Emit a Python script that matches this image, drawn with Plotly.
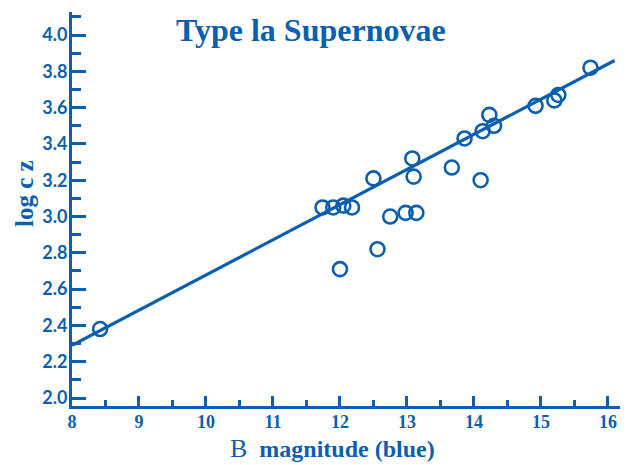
import plotly.graph_objects as go

BLUE = "#0B5FAE"
SERIF = "Liberation Serif"

# valores
b_mag = [8.42, 11.74, 11.9, 12.05, 12.18, 12.0, 12.5, 12.56, 12.75, 12.98, 13.08,
         13.1, 13.14, 13.67, 13.86, 14.1, 14.13, 14.23, 14.3, 14.92, 15.2, 15.26, 15.74]
log_cz = [2.38, 3.05, 3.05, 3.06, 3.05, 2.71, 3.21, 2.82, 3.0, 3.02, 3.32,
          3.22, 3.02, 3.27, 3.43, 3.2, 3.47, 3.56, 3.5, 3.61, 3.64, 3.67, 3.82]

fit_mag = [8.0, 16.1]
fit_logcz = [2.29, 3.86]

x_ticks = [8, 9, 10, 11, 12, 13, 14, 15, 16]
y_ticks = [2.0, 2.2, 2.4, 2.6, 2.8, 3.0, 3.2, 3.4, 3.6, 3.8, 4.0]

fig = go.Figure()
fig.add_trace(go.Scatter(
    x=fit_mag, y=fit_logcz, mode="lines",
    line=dict(color=BLUE, width=3.2), hoverinfo="skip"
))
fig.add_trace(go.Scatter(
    x=b_mag, y=log_cz, mode="markers",
    marker=dict(symbol="circle-open", size=14, color=BLUE, line=dict(color=BLUE, width=2.6))
))

# a página tem margem de 8px no body, por isso a figura é 8px menor
fig.update_layout(
    width=620, height=457,
    margin=dict(l=64, r=0, t=4, b=59),
    paper_bgcolor="white", plot_bgcolor="white",
    showlegend=False,
    font=dict(family=SERIF, color=BLUE),
    xaxis=dict(
        range=[8, 16.3], tickvals=x_ticks, ticktext=[str(v) for v in x_ticks],
        automargin=False,
        showgrid=False, zeroline=False, showline=True, linecolor=BLUE, linewidth=3,
        ticks="inside", ticklen=10, tickwidth=2.5, tickcolor=BLUE,
        ticklabelstandoff=-3,
        tickfont=dict(family=SERIF, size=18, color=BLUE, weight="bold"),
        minor=dict(dtick=0.5, tick0=8, ticks="inside", ticklen=6, tickwidth=2.5, tickcolor=BLUE),
    ),
    yaxis=dict(
        range=[1.956, 4.127], tickvals=y_ticks, ticktext=["%.1f" % v for v in y_ticks],
        automargin=False,
        showgrid=False, zeroline=False, showline=True, linecolor=BLUE, linewidth=3,
        ticks="inside", ticklen=14, tickwidth=2.5, tickcolor=BLUE,
        ticklabelstandoff=-2,
        tickfont=dict(family="Lato", size=18, color=BLUE, weight="bold"),
        minor=dict(dtick=0.1, tick0=2.0, ticks="inside", ticklen=9, tickwidth=2.5, tickcolor=BLUE),
    ),
    annotations=[
        dict(text="<b>Type la Supernovae</b>", xref="paper", yref="paper",
             x=0.43, y=0.955, xanchor="center", yanchor="middle", showarrow=False,
             font=dict(family=SERIF, size=32, color=BLUE)),
        dict(text="<span style='font-size:26px'>B</span>&nbsp;&nbsp;<b>magnitude (blue)</b>",
             xref="paper", yref="paper",
             x=0.468, y=-0.108, xanchor="center", yanchor="middle", showarrow=False,
             font=dict(family=SERIF, size=24, color=BLUE)),
        dict(text="<b>log c z</b>", xref="paper", yref="paper",
             x=-0.085, y=0.54, xanchor="center", yanchor="middle", showarrow=False,
             textangle=-90, font=dict(family=SERIF, size=25, color=BLUE)),
    ],
)

fig.write_html("out.html")
